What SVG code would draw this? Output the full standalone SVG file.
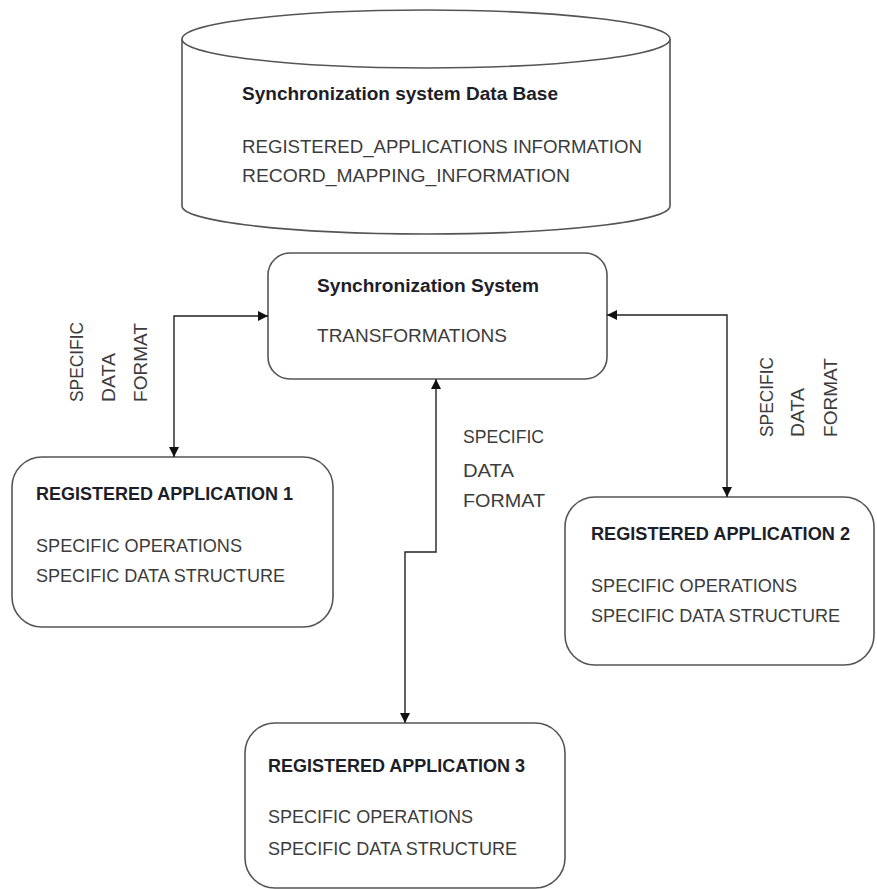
<svg xmlns="http://www.w3.org/2000/svg" width="877" height="889" viewBox="0 0 877 889">
<style>
.shape{fill:#fff;stroke:#555;stroke-width:1.6}
.conn{fill:none;stroke:#222;stroke-width:1.4}
.t{font-family:"Liberation Sans",Arial,sans-serif;font-size:18px;fill:#3c3c3c}
.b{font-family:"Liberation Sans",Arial,sans-serif;font-size:18px;font-weight:bold;fill:#1e1e28}
.v{font-family:"Liberation Sans",Arial,sans-serif;font-size:17.5px;fill:#3c3c3c}
</style>
<defs>
<marker id="arr" viewBox="0 0 10 10" refX="10" refY="5" markerWidth="10" markerHeight="10" markerUnits="userSpaceOnUse" orient="auto-start-reverse">
<path d="M0,0 L10,5 L0,10 z" fill="#111"/>
</marker>
</defs>
<rect width="877" height="889" fill="#fff"/>
<g id="database">
<path class="shape" d="M182,39 V206 A244,28 0 0 0 670,206 V39"/>
<ellipse class="shape" cx="426" cy="39" rx="244" ry="29"/>
<text class="b" x="242" y="100" textLength="316" lengthAdjust="spacingAndGlyphs">Synchronization system Data Base</text>
<text class="t" x="242" y="153" textLength="400" lengthAdjust="spacingAndGlyphs">REGISTERED_APPLICATIONS INFORMATION</text>
<text class="t" x="242" y="182" textLength="328" lengthAdjust="spacingAndGlyphs">RECORD_MAPPING_INFORMATION</text>
</g>
<g id="sync-system">
<rect class="shape" x="268" y="253" width="339" height="126" rx="22"/>
<text class="b" x="317" y="292" textLength="222" lengthAdjust="spacingAndGlyphs">Synchronization System</text>
<text class="t" x="317" y="342" textLength="190" lengthAdjust="spacingAndGlyphs">TRANSFORMATIONS</text>
</g>
<g id="app1">
<rect class="shape" x="12" y="457" width="321" height="170" rx="30"/>
<text class="b" x="36" y="500" textLength="257" lengthAdjust="spacingAndGlyphs">REGISTERED APPLICATION 1</text>
<text class="t" x="36" y="552" textLength="206" lengthAdjust="spacingAndGlyphs">SPECIFIC OPERATIONS</text>
<text class="t" x="36" y="582" textLength="249" lengthAdjust="spacingAndGlyphs">SPECIFIC DATA STRUCTURE</text>
</g>
<g id="app2">
<rect class="shape" x="565" y="497" width="309" height="168" rx="30"/>
<text class="b" x="591" y="540" textLength="259" lengthAdjust="spacingAndGlyphs">REGISTERED APPLICATION 2</text>
<text class="t" x="591" y="592" textLength="206" lengthAdjust="spacingAndGlyphs">SPECIFIC OPERATIONS</text>
<text class="t" x="591" y="622" textLength="249" lengthAdjust="spacingAndGlyphs">SPECIFIC DATA STRUCTURE</text>
</g>
<g id="app3">
<rect class="shape" x="245" y="723" width="320" height="165" rx="30"/>
<text class="b" x="268" y="772" textLength="257" lengthAdjust="spacingAndGlyphs">REGISTERED APPLICATION 3</text>
<text class="t" x="268" y="823" textLength="205" lengthAdjust="spacingAndGlyphs">SPECIFIC OPERATIONS</text>
<text class="t" x="268" y="855" textLength="249" lengthAdjust="spacingAndGlyphs">SPECIFIC DATA STRUCTURE</text>
</g>
<g id="connectors">
<path class="conn" d="M174,457 V316 H268" marker-start="url(#arr)" marker-end="url(#arr)"/>
<path class="conn" d="M607,315 H727 V497" marker-start="url(#arr)" marker-end="url(#arr)"/>
<path class="conn" d="M436,379 V552 H405 V723" marker-start="url(#arr)" marker-end="url(#arr)"/>
</g>
<g id="labels">
<text class="v" transform="translate(83,402) rotate(-90)" textLength="80" lengthAdjust="spacingAndGlyphs">SPECIFIC</text>
<text class="v" transform="translate(115,402) rotate(-90)" textLength="49" lengthAdjust="spacingAndGlyphs">DATA</text>
<text class="v" transform="translate(147,402) rotate(-90)" textLength="79" lengthAdjust="spacingAndGlyphs">FORMAT</text>
<text class="v" transform="translate(773,437) rotate(-90)" textLength="80" lengthAdjust="spacingAndGlyphs">SPECIFIC</text>
<text class="v" transform="translate(804,437) rotate(-90)" textLength="49" lengthAdjust="spacingAndGlyphs">DATA</text>
<text class="v" transform="translate(837,437) rotate(-90)" textLength="79" lengthAdjust="spacingAndGlyphs">FORMAT</text>
<text class="t" x="463" y="443" textLength="81" lengthAdjust="spacingAndGlyphs">SPECIFIC</text>
<text class="t" x="463" y="477" textLength="51" lengthAdjust="spacingAndGlyphs">DATA</text>
<text class="t" x="463" y="507" textLength="82" lengthAdjust="spacingAndGlyphs">FORMAT</text>
</g>
</svg>
